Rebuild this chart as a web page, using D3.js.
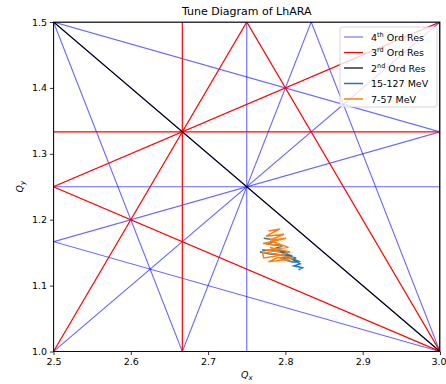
<!DOCTYPE html>
<html><head><meta charset="utf-8">
<script src="https://cdn.jsdelivr.net/npm/d3@7"></script>
<style>
body{margin:0;background:#fff}
text{font-family:"DejaVu Sans",sans-serif;fill:#000}
</style>
</head><body>
<svg id="chart" width="446" height="384"></svg>
<script>
var xTicks = [2.5, 2.6, 2.7, 2.8, 2.9, 3.0];
var yTicks = [1.0, 1.1, 1.2, 1.3, 1.4, 1.5];

// resonance lines, each [m, n, p] meaning m*Qx + n*Qy = p
var res4 = [[4,0,10],[4,0,11],[4,0,12],[0,4,4],[0,4,5],[0,4,6],[3,1,9],[3,1,10],[3,-1,7],[1,3,6],[1,3,7],[1,-3,-1],[2,2,8],[2,-2,3]];
var res3 = [[3,0,8],[3,0,9],[0,3,3],[0,3,4],[2,1,7],[2,-1,4],[1,2,5],[1,-2,0]];
var res2 = [[2,0,5],[2,0,6],[0,2,2],[0,2,3],[1,1,4]];

// tracked tunes
var qx15 = [2.772,2.788,2.778,2.796,2.783,2.804,2.770,2.791,2.809,2.780,2.767,2.798,2.814,2.793,2.809,2.817,2.801,2.819,2.811,2.822,2.817];
var qy15 = [1.172,1.169,1.163,1.160,1.155,1.151,1.154,1.152,1.145,1.148,1.151,1.146,1.142,1.142,1.136,1.137,1.145,1.133,1.130,1.127,1.124];
var qx7 = [2.778,2.793,2.775,2.798,2.780,2.801,2.771,2.796,2.783,2.804,2.775,2.793,2.780,2.806,2.788,2.772,2.770,2.785,2.811,2.796,2.778,2.791,2.806];
var qy7 = [1.183,1.186,1.175,1.178,1.169,1.172,1.164,1.161,1.167,1.158,1.154,1.151,1.158,1.151,1.145,1.142,1.151,1.148,1.142,1.139,1.136,1.143,1.136];

var margin = {top: 22, right: 6, bottom: 33, left: 53.5};
var width = 440 - margin.left;
var height = 351.5 - margin.top;

var svg = d3.select("#chart");

var x = d3.scaleLinear().domain([2.5, 3.0]).range([0, width]);
var y = d3.scaleLinear().domain([1.0, 1.5]).range([height, 0]);

var g = svg.append("g")
    .attr("transform", "translate(" + margin.left + "," + margin.top + ")");

g.append("clipPath").attr("id", "clip")
  .append("rect").attr("width", width).attr("height", height);

var plot = g.append("g").attr("clip-path", "url(#clip)");

function ends(c) {
    var m = c[0], n = c[1], p = c[2];
    if (n === 0) return [[p / m, 0.9], [p / m, 1.6]];
    return [[2.4, (p - m * 2.4) / n], [3.1, (p - m * 3.1) / n]];
}

function drawRes(list, color, opacity, w) {
    plot.selectAll(null)
        .data(list)
      .enter().append("line")
        .attr("x1", function(d) { return x(ends(d)[0][0]); })
        .attr("y1", function(d) { return y(ends(d)[0][1]); })
        .attr("x2", function(d) { return x(ends(d)[1][0]); })
        .attr("y2", function(d) { return y(ends(d)[1][1]); })
        .attr("stroke", color)
        .attr("stroke-opacity", opacity)
        .attr("stroke-width", w);
}

drawRes(res4, "blue", 0.6, 1.1);
drawRes(res3, "red", 1, 1.2);
drawRes(res2, "black", 1, 1.2);

var line = d3.line()
    .x(function(d) { return x(d[0]); })
    .y(function(d) { return y(d[1]); });

plot.append("path")
    .datum(d3.zip(qx15, qy15))
    .attr("d", line)
    .attr("fill", "none")
    .attr("stroke", "#1f77b4")
    .attr("stroke-width", 1.5);

plot.append("path")
    .datum(d3.zip(qx7, qy7))
    .attr("d", line)
    .attr("fill", "none")
    .attr("stroke", "#ff7f0e")
    .attr("stroke-width", 1.5);

// axes
var xAxis = d3.axisBottom(x).tickValues(xTicks).tickSize(3.5).tickPadding(3).tickFormat(d3.format(".1f"));
var yAxis = d3.axisLeft(y).tickValues(yTicks).tickSize(3.5).tickPadding(3).tickFormat(d3.format(".1f"));

g.append("g").attr("class", "xax").attr("transform", "translate(0," + height + ")").call(xAxis);
g.append("g").call(yAxis);
g.selectAll(".domain").remove();
g.selectAll(".tick line").attr("stroke", "#000").attr("stroke-width", 0.8);
g.selectAll(".tick text").attr("font-size", "9.5px").attr("font-family", "DejaVu Sans").attr("fill", "#000");
// last x label sits on the window edge
g.selectAll(".xax .tick text").filter(function(d) { return d === 3.0; }).attr("dx", -1.5);

g.append("rect")
    .attr("width", width).attr("height", height)
    .attr("fill", "none").attr("stroke", "#000").attr("stroke-width", 0.8);

// title and axis labels
svg.append("text")
    .attr("x", margin.left + width / 2).attr("y", 15)
    .attr("text-anchor", "middle").attr("font-size", "11px")
    .text("Tune Diagram of LhARA");

var xl = svg.append("text")
    .attr("x", margin.left + width / 2).attr("y", 378)
    .attr("text-anchor", "middle").attr("font-size", "9.5px");
xl.append("tspan").attr("font-style", "italic").text("Q");
xl.append("tspan").attr("font-style", "italic").attr("font-size", "7px").attr("dy", 2).text("x");

var yl = svg.append("text")
    .attr("transform", "translate(23," + (margin.top + height / 2) + ") rotate(-90)")
    .attr("text-anchor", "middle").attr("font-size", "9.5px");
yl.append("tspan").attr("font-style", "italic").text("Q");
yl.append("tspan").attr("font-style", "italic").attr("font-size", "7px").attr("dy", 2).text("y");

// legend
var legendItems = [
    {base: "4", sup: "th", rest: " Ord Res", color: "blue", op: 0.6, w: 1.1},
    {base: "3", sup: "rd", rest: " Ord Res", color: "red", op: 1, w: 1.2},
    {base: "2", sup: "nd", rest: " Ord Res", color: "black", op: 1, w: 1.2},
    {base: "15-127 MeV", sup: "", rest: "", color: "#1f77b4", op: 1, w: 1.5},
    {base: "7-57 MeV", sup: "", rest: "", color: "#ff7f0e", op: 1, w: 1.5}
];

var lg = svg.append("g").attr("transform", "translate(340,27)");
lg.append("rect")
    .attr("width", 97).attr("height", 80).attr("rx", 2)
    .attr("fill", "#fff").attr("fill-opacity", 0.8)
    .attr("stroke", "#ccc").attr("stroke-width", 0.8);

var row = lg.selectAll(".row")
    .data(legendItems)
  .enter().append("g")
    .attr("transform", function(d, i) { return "translate(0," + (10 + i * 15.5) + ")"; });

row.append("line")
    .attr("x1", 4).attr("x2", 23)
    .attr("stroke", function(d) { return d.color; })
    .attr("stroke-opacity", function(d) { return d.op; })
    .attr("stroke-width", function(d) { return d.w; });

var lt = row.append("text")
    .attr("x", 31).attr("y", 3.5).attr("font-size", "9.5px");
lt.append("tspan").text(function(d) { return d.base; });
lt.append("tspan").attr("font-size", "6.5px").attr("dy", -4).text(function(d) { return d.sup; });
lt.append("tspan").attr("dy", function(d) { return d.sup ? 4 : 0; }).text(function(d) { return d.rest; });
</script>
</body></html>
